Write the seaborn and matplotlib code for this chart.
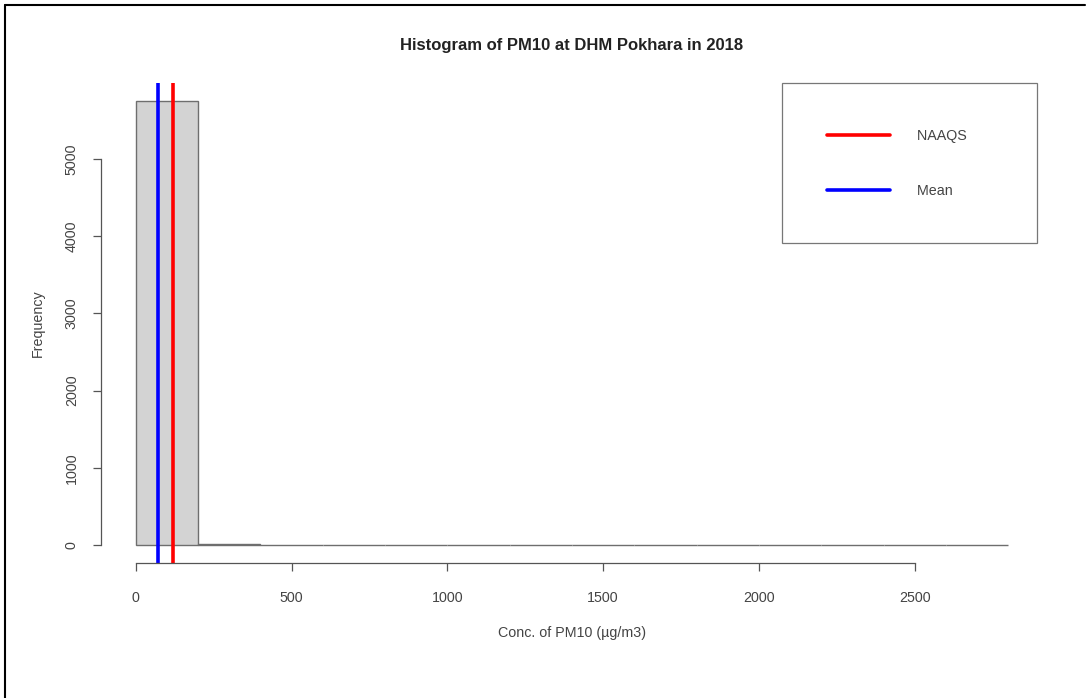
import numpy as np
import pandas as pd
import matplotlib
matplotlib.use("Agg")
import matplotlib.pyplot as plt
from matplotlib.lines import Line2D
import seaborn as sns

# ---- data ----
bin_edges = [0, 200, 400, 600, 800, 1000, 1200, 1400, 1600, 1800, 2000, 2200, 2400, 2600, 2800]
bin_counts = [5752, 22, 0, 0, 0, 0, 0, 0, 0, 0, 0, 0, 0, 1]
mean_value = 70
naaqs_value = 120
x_ticks = [0, 500, 1000, 1500, 2000, 2500]
y_ticks = [0, 1000, 2000, 3000, 4000, 5000]

sns.set_style("white")
plt.rcParams['font.family'] = ['Liberation Sans', 'DejaVu Sans']

W, H = 1089, 698
fig = plt.figure(figsize=(W / 100, H / 100), dpi=100)
# plot region in pixels
L, R, T, B = 101, 1043, 83, 563
ax = fig.add_axes([L / W, 1 - B / H, (R - L) / W, (B - T) / H])

centers = [(a + b) / 2 for a, b in zip(bin_edges[:-1], bin_edges[1:])]
df = pd.DataFrame({"conc": centers, "count": bin_counts})
sns.histplot(data=df, x="conc", weights="count", bins=bin_edges, ax=ax,
             color="#d3d3d3", edgecolor="#6e6e6e", linewidth=1.0, alpha=1.0)

ax.axvline(naaqs_value, color="#ff0000", linewidth=2.6, label="NAAQS")
ax.axvline(mean_value, color="#0000ff", linewidth=2.6, label="Mean")

xr = bin_edges[-1] - bin_edges[0]
ax.set_xlim(bin_edges[0] - 0.04 * xr, bin_edges[-1] + 0.04 * xr)
ymax = max(bin_counts)
ax.set_ylim(-0.04 * ymax, ymax * 1.04)

fs = 10.3
ax.set_xticks(x_ticks)
ax.set_yticks(y_ticks)
ax.set_yticklabels([str(v) for v in y_ticks], rotation=90, va="center")
for s in ["top", "right"]:
    ax.spines[s].set_visible(False)
ax.spines["bottom"].set_bounds(x_ticks[0], x_ticks[-1])
ax.spines["left"].set_bounds(y_ticks[0], y_ticks[-1])
for s in ["bottom", "left"]:
    ax.spines[s].set_color("#555555")
    ax.spines[s].set_linewidth(0.9)
ax.tick_params(axis="x", pad=14)
ax.tick_params(axis="y", pad=10)
ax.tick_params(axis="both", direction="out", length=6, width=0.9, color="#555555",
               labelsize=fs, labelcolor="#444444", bottom=True, left=True)

ax.set_title("Histogram of PM10 at DHM Pokhara in 2018", fontsize=12,
             fontweight="bold", color="#222222", pad=24)
ax.set_xlabel("Conc. of PM10 (\u00b5g/m3)", fontsize=fs, color="#444444", labelpad=15)
ax.set_ylabel("Frequency", fontsize=fs, color="#444444", labelpad=14)

handles, labels = ax.get_legend_handles_labels()
leg = ax.legend(handles, [l + "      " for l in labels], loc="upper right",
                bbox_to_anchor=(1037 / W, 1 - 83 / H), bbox_transform=fig.transFigure,
                fontsize=fs, frameon=True, fancybox=False, borderpad=3.2,
                labelspacing=2.85, handlelength=4.4, handletextpad=1.9, borderaxespad=0)
leg.get_frame().set_edgecolor("#555555")
leg.get_frame().set_linewidth(0.9)
for t in leg.get_texts():
    t.set_color("#444444")

# outer screenshot frame (left and top)
fig.add_artist(Line2D([5 / W, 5 / W], [0, 1 - 5 / H], transform=fig.transFigure,
                      color="black", linewidth=1.5))
fig.add_artist(Line2D([5 / W, 1085 / W], [1 - 5 / H, 1 - 5 / H], transform=fig.transFigure,
                      color="black", linewidth=1.5))

fig.savefig("out.png", dpi=100)
